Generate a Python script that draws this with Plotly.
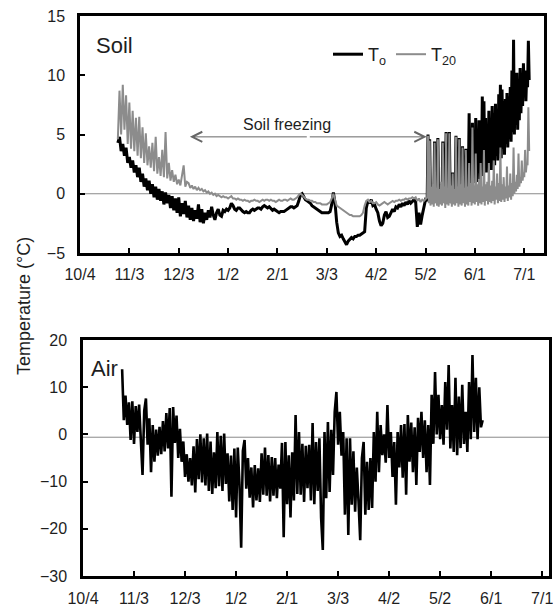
import plotly.graph_objects as go

# ---------------- data ----------------
tick_days = [0, 30, 60, 90, 120, 150, 180, 210, 240, 270]
tick_labels = ["10/4", "11/3", "12/3", "1/2", "2/1", "3/3", "4/2", "5/2", "6/1", "7/1"]

# soil: daily values from day 23 to 210 (days since 10/4), then half-daily to day 273
soil_daily_days = list(range(23, 211))
soil_half_days = [211 + 0.5 * k for k in range(125)]

t0_daily = [
    4.3, 4.8, 3.6, 4.2, 3.2, 3.9, 2.6, 3.1, 2.2, 2.8,
    1.8, 2.4, 1.4, 2.2, 1.0, 1.7, 0.6, 1.3, 0.3, 1.1,
    0.0, 0.8, -0.3, 0.6, -0.5, 0.4, -0.6, 0.2, -0.9, 0.1,
    -0.8, -0.1, -1.2, -0.2, -1.4, -0.4, -1.6, -0.3, -1.9, -0.8,
    -1.7, -0.6, -2.0, -1.0, -2.2, -1.2, -2.3, -1.4, -2.1, -0.9,
    -2.4, -1.3, -2.5, -1.6, -2.2, -1.4, -2.0, -1.1, -1.8, -2.2,
    -1.6, -1.3, -1.8, -1.9, -1.4, -1.5, -1.3, -1.4,
    -1.2, -0.8, -1.0, -1.3, -1.4, -1.2, -1.2, -1.4, -1.5, -1.6,
    -1.5, -1.6, -1.6, -1.4, -1.3, -1.4, -1.3, -1.2, -1.2, -1.3,
    -1.1, -1.0, -1.1, -1.2, -1.1, -1.3, -1.4, -1.3, -1.4, -1.5,
    -1.6, -1.5, -1.5, -1.5, -1.4, -1.3, -1.2, -1.1, -1.1, -1.2,
    -1.1, -1.0, -0.6, -0.1, 0.0, -0.3, -0.5, -0.6, -0.7, -0.8,
    -1.0, -1.1, -1.2, -1.3, -1.4, -1.5, -1.6, -1.6, -1.6, -1.6,
    -1.6, -1.5, -0.9, 0.1, -0.8,
    -2.4, -3.3, -3.6, -3.5, -3.8, -4.1, -4.3, -4.0, -3.8, -3.7,
    -3.8, -3.6, -3.6, -3.5, -3.5, -3.4, -3.3,
    -3.2, -1.2, -0.6, -0.8, -0.5, -1.0, -0.9, -1.3, -1.6, -2.3,
    -2.7, -2.5, -1.8, -1.5, -2.0, -1.9, -1.6, -1.3, -1.5, -1.1,
    -1.2, -0.9, -1.1, -0.8, -1.0, -0.7, -0.9, -0.6, -0.8, -0.6,
    -0.5, -0.7, -2.8, -1.6, -2.6, -1.8, -1.2, -0.5,
]
t0_half = [
    -0.6, 5.0, -0.5, 4.6, -0.7, 0.5, -0.6, 0.6, -0.8, 4.4,
    -0.5, 0.4, -0.7, 4.7, -0.8, 0.3, -0.6, 0.8, -0.7, 4.4,
    -0.5, 0.5, -0.8, 5.2, -0.6, 0.4, -0.7, 5.2, -0.5, 0.6,
    -0.8, 1.8, -0.6, 0.3, -0.7, 4.9, -0.5, 0.5, -0.7, 4.7,
    -0.5, 0.9, -0.6, 4.0, -0.3, 0.6, -0.5, 3.8, 0.2, 2.0,
    0.8, 6.8, 0.5, 5.2, 1.2, 6.0, 0.9, 4.6, 1.6, 6.4,
    1.0, 5.0, 1.8, 6.2, 1.2, 5.6, 2.0, 8.2, 1.5, 7.8,
    2.4, 6.4, 1.8, 5.8, 2.3, 7.0, 2.6, 6.2, 2.0, 7.4,
    2.9, 6.8, 2.4, 7.6, 3.2, 6.9, 2.8, 8.4, 3.4, 9.2,
    3.0, 8.8, 3.8, 7.8, 3.3, 8.0, 4.2, 8.5, 3.9, 8.2,
    4.6, 9.0, 4.4, 10.4, 5.2, 13.0, 5.0, 9.8, 5.8, 10.2,
    5.4, 9.6, 6.2, 10.6, 6.8, 10.0, 7.4, 11.0, 8.2, 10.4,
    7.8, 10.2, 9.0, 12.9, 9.6,
]

t20_daily = [
    4.6, 8.7, 5.0, 9.2, 5.4, 8.3, 4.2, 7.7, 3.8, 7.0,
    3.6, 6.4, 3.2, 6.5, 3.0, 5.6, 2.6, 5.1, 2.4, 4.0,
    2.2, 4.3, 1.9, 4.8, 1.7, 3.1, 1.5, 3.7, 1.4, 5.2,
    1.3, 2.6, 1.1, 2.0, 1.0, 1.6, 0.8, 1.2, 0.7, 1.4,
    2.4, 0.6, 1.0, 0.9, 0.5, 0.7, 0.4, 0.6, 0.3, 0.5,
    0.3, 0.4, 0.2, 0.3, 0.1, 0.2, 0.0, 0.1, -0.1, 0.0,
    -0.2, -0.1, -0.2, -0.3, -0.2, -0.3, -0.3, -0.4, -0.3, -0.2,
    -0.4, -0.4, -0.5, -0.4, -0.5, -0.5, -0.6, -0.5, -0.6, -0.6,
    -0.7, -0.6, -0.6, -0.5, -0.6, -0.6, -0.7, -0.6, -0.5, -0.6,
    -0.5, -0.5, -0.6, -0.5, -0.6, -0.6, -0.7, -0.6, -0.5, -0.6,
    -0.6, -0.5, -0.5, -0.6, -0.5, -0.4, -0.5, -0.5, -0.4, -0.3,
    -0.1, 0.0, -0.1, -0.3, -0.4, -0.5, -0.5, -0.6, -0.6, -0.7,
    -0.7, -0.8, -0.8, -0.8, -0.9, -0.9, -0.9, -0.9, -0.8, -0.7,
    -0.4, 0.0, -0.5, -1.0, -1.1, -1.2, -1.3, -1.4, -1.5, -1.6,
    -1.7, -1.8, -1.8, -1.9, -1.9, -1.9, -1.9, -1.9, -1.8, -1.6,
    -1.0, -0.6, -0.5, -0.7, -0.6, -0.8, -0.8, -0.7, -0.9, -1.0,
    -0.9, -0.8, -0.7, -0.8, -0.9, -0.8, -0.7, -0.6, -0.7, -0.6,
    -0.6, -0.5, -0.6, -0.5, -0.5, -0.4, -0.5, -0.4, -0.4, -0.3,
    -0.4, -0.3, -0.6, -0.4, -0.7, -0.5, -0.6, -0.4,
]
t20_half = [
    -0.3, 4.9, -0.8, 4.5, -1.0, 0.6, -0.9, 0.8, -1.1, 4.3,
    -0.8, 0.5, -1.0, 4.6, -1.1, 0.4, -0.9, 1.0, -1.0, 4.3,
    -0.8, 0.6, -1.2, 5.1, -0.9, 0.5, -1.0, 5.1, -0.8, 0.7,
    -1.1, 1.7, -0.9, 0.4, -1.0, 4.8, -0.8, 0.6, -1.1, 4.6,
    -0.9, 0.8, -1.0, 3.9, -0.8, 0.5, -1.1, 3.7, -0.9, 0.6,
    -1.0, 2.6, -0.7, 0.9, -1.0, 5.6, -0.8, 0.7, -0.9, 3.4,
    -0.7, 0.8, -1.0, 1.2, -0.8, 2.6, -0.9, 0.6, -0.7, 3.7,
    -1.0, 0.8, -0.6, 1.0, -0.9, 2.6, -0.7, 0.7, -0.8, 1.1,
    -0.6, 2.8, -0.9, 0.6, -0.5, 1.7, -0.8, 0.9, -0.6, 3.9,
    -0.7, 0.8, -0.5, 1.4, -0.7, 0.6, -0.4, 2.3, -0.6, 0.7,
    -0.3, 1.7, -0.5, 0.9, -0.2, 3.9, 0.0, 1.0, 0.2, 1.6,
    0.4, 3.4, 0.6, 1.4, 0.9, 2.8, 1.1, 1.8, 1.4, 3.7,
    1.8, 2.6, 2.4, 7.3, 3.6,
]

# air: daily values from day 23 to 235
air_days = list(range(23, 236))
air_temp = [
    13.8,
    3.0, 8.2, 2.0, 6.8, -1.2, 7.0, -2.0, 6.0, 0.5, 6.3,
    -1.5, -8.6, 5.0, 7.6, -2.2, 3.4, -8.0, 2.0, -5.8, 1.0,
    -4.5, 1.6, -4.2, 2.8, -3.6, 4.5, -3.0, 5.6, -13.2, 5.8,
    -1.8, 4.0, -5.0, 1.2, -5.8, -1.5, -9.0, -4.2, -10.0, -5.0,
    -10.8, -2.5, -12.3, -1.0, -9.5, 0.0, -10.2, -0.8, -10.8, 0.2,
    -12.0, -1.5, -12.6, -3.8, -11.4, 0.5, -11.0, -0.3, -12.0, 0.2,
    -10.5, -4.0, -14.2, -4.5, -16.0, -3.0, -17.6, -2.8, -10.5, -24.0,
    -3.5, -1.2, -11.5, -5.0, -13.4, -7.0, -15.5, -6.5, -14.0, -7.2,
    -14.3, -4.0, -12.8, -2.8, -13.0, -4.4, -14.2, -4.8, -13.0, -5.0,
    -13.5, -6.4, -11.5, -1.8, -21.8, -1.6, -14.8, -4.4, -17.6, -3.8,
    -14.0, 4.1, -12.6, 0.5, -12.8, -2.0, -14.3, -2.4, -11.4, -2.2,
    -14.0, 2.4, -14.8, -1.6, -12.0, -0.8, -17.6, -24.5, 0.5, -13.5,
    2.6, -12.2, 1.0, -8.6, 4.8, 9.0, -2.2, 4.8, -4.5, 0.5,
    -17.0, -0.8, -21.3, -0.8, -14.9, -3.6, -16.4, -7.0, -14.2, -22.4,
    -5.0, -1.6, -17.0, -5.8, -16.0, -5.0, -15.6, 0.5, -10.0, 4.8,
    -8.0, 2.0, -4.4, 0.0, -6.0, 6.2, -5.0, 0.5, -9.0, -1.6,
    -14.9, 0.5, -7.0, 2.0, -9.2, 2.2, -12.8, 4.1, -5.8, 2.5,
    -8.0, 1.5, -10.7, 3.5, -3.7, 4.8, -5.0, 3.0, -8.0, 2.0,
    -10.7, 8.4, -2.0, 13.2, 0.0, 8.4, -1.0, 6.2, -2.2, 11.1,
    1.0, 14.7, -3.0, 6.2, -3.7, 12.0, -4.4, 8.0, -2.9, 10.5,
    -2.0, 4.8, -3.7, 11.1, -1.0, 16.8, 0.5, 12.0, -1.0, 10.0,
    1.5, 3.0,
]

# annotation data
freeze_start_day, freeze_end_day, freeze_level = 66.8, 210.7, 4.8
air_ref_level = -0.6

# ---------------- figure ----------------
FONT = "Liberation Sans, Arial, sans-serif"
TXT = "#1e1e1e"

soil_days = soil_daily_days + soil_half_days
t0 = t0_daily + t0_half
t20 = t20_daily + t20_half

fig = go.Figure()
fig.add_trace(go.Scatter(x=soil_days, y=t0, mode="lines", name="T<sub>o</sub>",
                         line=dict(color="#000000", width=3), xaxis="x", yaxis="y"))
fig.add_trace(go.Scatter(x=soil_days, y=t20, mode="lines", name="T<sub>20</sub>",
                         line=dict(color="#8c8c8c", width=2), xaxis="x", yaxis="y"))
fig.add_trace(go.Scatter(x=air_days, y=air_temp, mode="lines", showlegend=False,
                         line=dict(color="#000000", width=2.6), xaxis="x2", yaxis="y2"))

W, H = 553, 608
def px_x(p):
    return p / W
def px_y(p):
    return 1 - p / H

axis_common = dict(showgrid=False, zeroline=False, showline=True, linecolor="black",
                   linewidth=2.5, mirror=True, ticks="inside", ticklen=5, tickwidth=2,
                   tickcolor="black", automargin=False, ticklabeloverflow="allow",
                   tickfont=dict(family=FONT, size=16, color=TXT))

fig.update_layout(
    width=W, height=H, autosize=False,
    margin=dict(l=0, r=0, t=0, b=0, autoexpand=False),
    paper_bgcolor="white", plot_bgcolor="white",
    xaxis=dict(domain=[px_x(80), px_x(544)], range=[0, 282], tickvals=tick_days,
               ticktext=tick_labels, anchor="y", ticklabelstandoff=5, **axis_common),
    yaxis=dict(domain=[px_y(253), px_y(16)], range=[-5, 15], tickvals=[-5, 0, 5, 10, 15],
               anchor="x", ticklabelstandoff=9, **axis_common),
    xaxis2=dict(domain=[px_x(83), px_x(549)], range=[0, 274], tickvals=tick_days,
                ticktext=tick_labels, anchor="y2", ticklabelstandoff=6, **axis_common),
    yaxis2=dict(domain=[px_y(576), px_y(340)], range=[-30, 20],
                tickvals=[-30, -20, -10, 0, 10, 20], anchor="x2", ticklabelstandoff=10,
                **axis_common),
    showlegend=True,
    legend=dict(orientation="h", x=px_x(328), y=px_y(36), xanchor="left", yanchor="top",
                bgcolor="rgba(0,0,0,0)", font=dict(family=FONT, size=18, color=TXT),
                itemwidth=30, traceorder="normal"),
)

fig.add_shape(type="line", xref="x domain", yref="y", x0=0, x1=1, y0=0, y1=0,
              line=dict(color="#8a8a8a", width=1), layer="below")
fig.add_shape(type="line", xref="x2 domain", yref="y2", x0=0, x1=1,
              y0=air_ref_level, y1=air_ref_level,
              line=dict(color="#8a8a8a", width=1), layer="below")

mid = (freeze_start_day + freeze_end_day) / 2
for end in (freeze_start_day, freeze_end_day):
    fig.add_annotation(x=end, y=freeze_level, ax=mid, ay=freeze_level, xref="x", yref="y",
                       axref="x", ayref="y", text="", showarrow=True, arrowhead=5,
                       arrowsize=2, arrowwidth=1, arrowcolor="#666666")
fig.add_annotation(x=mid - 13, y=freeze_level, xref="x", yref="y", text="Soil freezing",
                   showarrow=False, yanchor="bottom", yshift=2,
                   font=dict(family=FONT, size=16, color=TXT))

fig.add_annotation(x=px_x(94), y=px_y(45), xref="paper", yref="paper", text="Soil",
                   showarrow=False, xanchor="left", yanchor="middle",
                   font=dict(family=FONT, size=22, color=TXT))
fig.add_annotation(x=px_x(89), y=px_y(368), xref="paper", yref="paper", text="Air",
                   showarrow=False, xanchor="left", yanchor="middle",
                   font=dict(family=FONT, size=22, color=TXT))
fig.add_annotation(x=px_x(24), y=px_y(306), xref="paper", yref="paper",
                   text="Temperature (°C)", textangle=-90, showarrow=False,
                   xanchor="center", yanchor="middle",
                   font=dict(family=FONT, size=18, color=TXT))

fig.write_html("out.html")
